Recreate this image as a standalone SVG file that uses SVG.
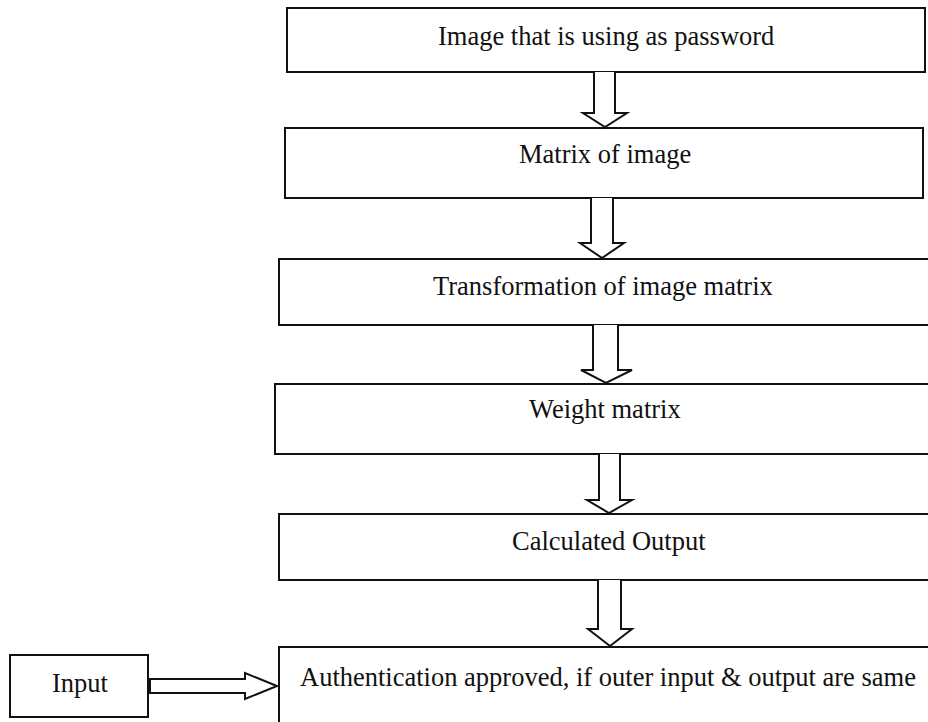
<svg xmlns="http://www.w3.org/2000/svg" width="928" height="722" viewBox="0 0 928 722">
<style>
.box{fill:#fff;stroke:#111;stroke-width:2}
.arr{fill:#fff;stroke:#111;stroke-width:2;stroke-linejoin:miter}
.t{font-family:"Liberation Serif","Times New Roman",serif;font-size:26.5px;fill:#111}
</style>
<rect width="928" height="722" fill="#fff"/>
<g id="n1"><rect class="box" x="287" y="8" width="638" height="64"/><text class="t" x="438" y="45">Image that is using as password</text></g>
<g id="n2"><rect class="box" x="285" y="128" width="638" height="70"/><text class="t" x="519" y="163">Matrix of image</text></g>
<g id="n3"><rect class="box" x="279" y="259" width="660" height="66"/><text class="t" x="433" y="295">Transformation of image matrix</text></g>
<g id="n4"><rect class="box" x="275" y="384" width="664" height="70"/><text class="t" x="529" y="418">Weight matrix</text></g>
<g id="n5"><rect class="box" x="279" y="514" width="660" height="66"/><text class="t" x="512" y="550">Calculated Output</text></g>
<g id="n6"><rect class="box" x="279" y="647" width="660" height="90"/><text class="t" x="300" y="686">Authentication approved, if outer input &amp; output are same</text></g>
<g id="n7"><rect class="box" x="10" y="655" width="138" height="62"/><text class="t" x="52" y="692">Input</text></g>
<g id="connectors">
<path class="arr" d="M594,72 V113 H583 L605,127 L627,113 H615 V72"/>
<path class="arr" d="M591,198 V243 H580 L602,258 L624,243 H613 V198"/>
<path class="arr" d="M593,325 V370 H581 L606,383 L632,370 H618 V325"/>
<path class="arr" d="M599,454 V500 H587 L609,513 L632,500 H620 V454"/>
<path class="arr" d="M598,580 V629 H588 L610,646 L632,629 H621 V580"/>
<path class="arr" d="M150,679 H245 V673 L277,686 L245,699 V693 H150 Z"/>
</g>
</svg>
